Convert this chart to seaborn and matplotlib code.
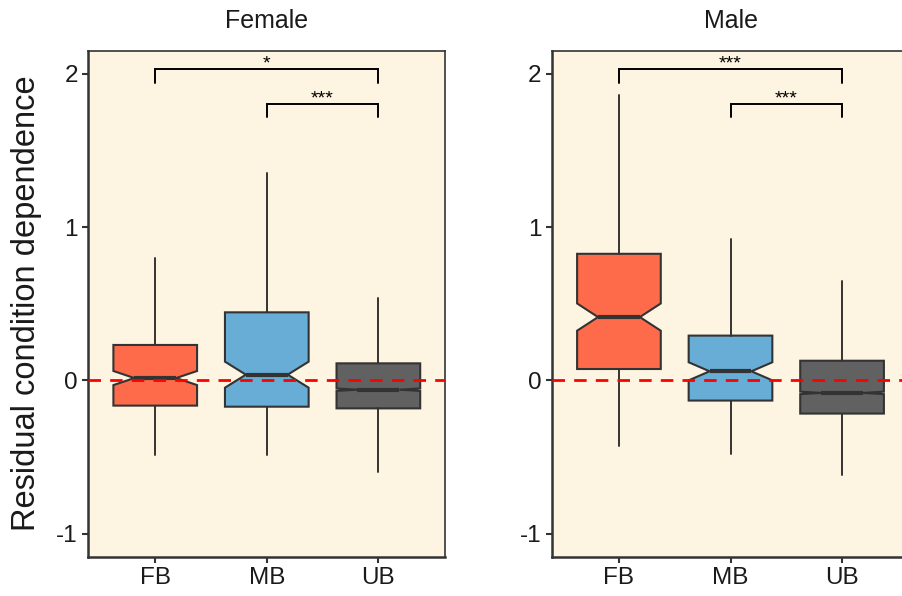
import matplotlib
matplotlib.use("Agg")
import matplotlib.pyplot as plt
import seaborn as sns

# ---- data -------------------------------------------------------------
groups = ["FB", "MB", "UB"]
panels = ["Female", "Male"]

# box summaries: lower whisker, Q1, median, Q3, upper whisker, notch half-width
female_whislo = [-0.49, -0.49, -0.60]
female_q1 = [-0.165, -0.172, -0.183]
female_med = [0.015, 0.037, -0.061]
female_q3 = [0.231, 0.444, 0.111]
female_whishi = [0.798, 1.353, 0.539]
female_notch = [0.046, 0.085, 0.008]

male_whislo = [-0.43, -0.478, -0.615]
male_q1 = [0.074, -0.132, -0.217]
male_med = [0.413, 0.059, -0.082]
male_q3 = [0.826, 0.292, 0.128]
male_whishi = [1.864, 0.922, 0.646]
male_notch = [0.089, 0.059, 0.008]

# pairwise comparisons
sig_pairs = [("FB", "UB"), ("MB", "UB")]
female_sig = ["*", "***"]
male_sig = ["***", "***"]
bracket_y = [2.03, 1.805]
tip_len = 0.088

yticks = [-1, 0, 1, 2]
ylabel = "Residual condition dependence"

palette = ["#FE6B4A", "#68ADD6", "#616161"]
panel_bg = "#FDF5E2"
ink = "#333333"

# ---- style ------------------------------------------------------------
sns.set_theme(style="ticks")
plt.rcParams["font.family"] = ["Liberation Sans", "DejaVu Sans"]

W, H = 902, 596
fig = plt.figure(figsize=(W / 100, H / 100), dpi=100)
fig.patch.set_facecolor("white")

ax_w = 357 / W
ax_b = 1 - 556.5 / H
ax_h = (556.5 - 51) / H
lefts = [88.3 / W, 552 / W]

summaries = {
    "Female": (female_whislo, female_q1, female_med, female_q3, female_whishi, female_notch, female_sig),
    "Male": (male_whislo, male_q1, male_med, male_q3, male_whishi, male_notch, male_sig),
}

cols = sns.color_palette(palette)

for left, name in zip(lefts, panels):
    ax = fig.add_axes([left, ax_b, ax_w, ax_h])
    ax.set_facecolor(panel_bg)
    lo, q1, med, q3, hi, notch, sig = summaries[name]

    stats = []
    for i, g in enumerate(groups):
        stats.append(dict(label=g, whislo=lo[i], q1=q1[i], med=med[i], q3=q3[i],
                          whishi=hi[i], cilo=med[i] - notch[i], cihi=med[i] + notch[i],
                          fliers=[]))

    art = ax.bxp(stats, positions=range(len(groups)), widths=0.75,
                 patch_artist=True, shownotches=True, showcaps=False,
                 showfliers=False, manage_ticks=False,
                 boxprops=dict(edgecolor=ink, linewidth=1.5),
                 medianprops=dict(color=ink, linewidth=3.0, solid_capstyle="butt"),
                 whiskerprops=dict(color=ink, linewidth=1.4))
    for patch, c in zip(art["boxes"], cols):
        patch.set_facecolor(c)

    ax.axhline(0, color="#FF0000", lw=2.0, ls=(0, (4.5, 3.3)), zorder=5)

    # significance brackets
    for (a, b), txt, yb in zip(sig_pairs, sig, bracket_y):
        xa, xb = groups.index(a), groups.index(b)
        ax.plot([xa, xa, xb, xb], [yb - tip_len, yb, yb, yb - tip_len],
                color="black", lw=1.4, solid_joinstyle="miter", zorder=6)
        ax.annotate(txt, xy=((xa + xb) / 2, yb), xytext=(0, 0.5),
                    textcoords="offset points", ha="center", va="baseline",
                    fontsize=14, color="black")

    ax.set_xlim(-0.6, len(groups) - 0.4)
    ax.set_ylim(-1.15, 2.15)
    ax.set_xticks(range(len(groups)))
    ax.set_xticklabels(groups)
    ax.set_yticks(yticks)
    ax.set_yticklabels([str(t) for t in yticks])
    ax.tick_params(axis="both", length=4.5, width=1.5, color=ink, pad=3,
                   labelsize=17.5, labelcolor="#1a1a1a")
    for side, sp in ax.spines.items():
        sp.set_visible(True)
        sp.set_color(ink)
        sp.set_linewidth(1.8 if side in ("left", "bottom") else 1.2)
    ax.grid(False)

    cx = left + ax_w / 2
    fig.text(cx, 1 - 28 / H, name, ha="center", va="baseline", fontsize=18, color="#1a1a1a")

fig.text(27 / W, 1 - 303.5 / H, ylabel, rotation=90, ha="center", va="center",
         fontsize=23.5, color="#1a1a1a")

fig.savefig("out.png", dpi=100, facecolor="white")
